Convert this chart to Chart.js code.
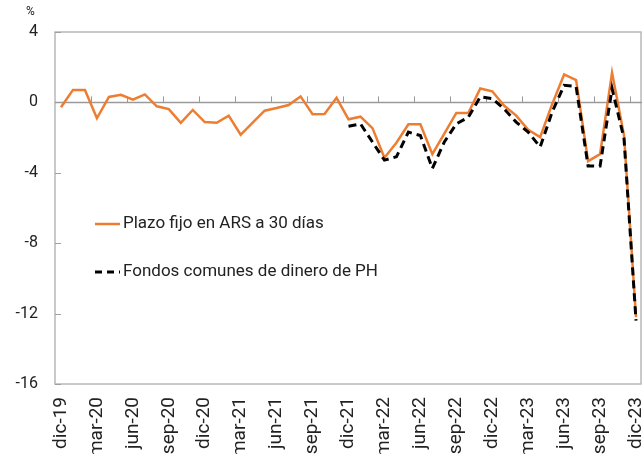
<!DOCTYPE html>
<html>
<head>
<meta charset="utf-8">
<script src="https://cdn.jsdelivr.net/npm/chart.js@4"></script>
<style>
    html, body { margin: 0; padding: 0; background: #fff; }
    #wrap { width: 642px; height: 454px; }
</style>
</head>
<body>
<div id="wrap"><canvas id="grafico"></canvas></div>
<script>
// Meses (dic-19 a dic-23)
const meses = [
    'dic-19', 'ene-20', 'feb-20', 'mar-20', 'abr-20', 'may-20', 'jun-20', 'jul-20', 'ago-20', 'sep-20', 'oct-20', 'nov-20',
    'dic-20', 'ene-21', 'feb-21', 'mar-21', 'abr-21', 'may-21', 'jun-21', 'jul-21', 'ago-21', 'sep-21', 'oct-21', 'nov-21',
    'dic-21', 'ene-22', 'feb-22', 'mar-22', 'abr-22', 'may-22', 'jun-22', 'jul-22', 'ago-22', 'sep-22', 'oct-22', 'nov-22',
    'dic-22', 'ene-23', 'feb-23', 'mar-23', 'abr-23', 'may-23', 'jun-23', 'jul-23', 'ago-23', 'sep-23', 'oct-23', 'nov-23',
    'dic-23'
];

// Plazo fijo en ARS a 30 días (%)
const plazoFijo = [
    -0.28, 0.71, 0.71, -0.9, 0.31, 0.43, 0.15, 0.45, -0.22, -0.38, -1.16, -0.43,
    -1.12, -1.16, -0.75, -1.84, -1.15, -0.47, -0.32, -0.15, 0.34, -0.67, -0.66, 0.26,
    -0.96, -0.81, -1.46, -3.15, -2.29, -1.24, -1.24, -2.94, -1.78, -0.6, -0.6, 0.79,
    0.63, -0.19, -0.75, -1.56, -1.97, -0.1, 1.59, 1.27, -3.34, -2.94, 1.69, -1.88,
    -12.2
];

// Fondos comunes de dinero de PH (%), desde dic-21
const fondosComunes = [
    null, null, null, null, null, null, null, null, null, null, null, null,
    null, null, null, null, null, null, null, null, null, null, null, null,
    -1.35, -1.22, -2.25, -3.28, -3.09, -1.69, -1.88, -3.75, -2.25, -1.22, -0.84, 0.31,
    0.22, -0.38, -1.12, -1.69, -2.53, -0.55, 0.97, 0.9, -3.62, -3.62, 0.79, -2.06,
    -12.4
];

const yTicks = [4, 0, -4, -8, -12, -16];

const NARANJA = 'rgb(237,125,49)';
const TEXTO = '#222';

// Marco, marcas de ejes y leyenda
const decoracion = {
    id: 'decoracion',
    beforeDatasetsDraw(chart) {
        const { ctx, chartArea: a, scales } = chart;
        const x = scales.x, y = scales.y;
        ctx.save();
        // marco del área
        ctx.strokeStyle = '#b8b8b8';
        ctx.lineWidth = 1.5;
        ctx.strokeRect(a.left, a.top, a.right - a.left - 1, a.bottom - a.top);
        // marcas en el eje y (hacia dentro)
        ctx.strokeStyle = '#a0a0a0';
        ctx.lineWidth = 1;
        yTicks.forEach(v => {
            const py = Math.round(y.getPixelForValue(v)) + 0.5;
            ctx.beginPath();
            ctx.moveTo(a.left, py);
            ctx.lineTo(a.left + 6, py);
            ctx.stroke();
        });
        // línea del cero
        const y0 = y.getPixelForValue(0);
        ctx.strokeStyle = '#9a9a9a';
        ctx.lineWidth = 1.5;
        ctx.beginPath();
        ctx.moveTo(a.left, y0);
        ctx.lineTo(a.right, y0);
        ctx.stroke();
        // marcas trimestrales sobre la línea del cero
        ctx.lineWidth = 1;
        for (let i = 3; i < meses.length; i += 3) {
            const px = Math.round((x.getPixelForValue(i - 1) + x.getPixelForValue(i)) / 2) + 0.5;
            ctx.beginPath();
            ctx.moveTo(px, y0);
            ctx.lineTo(px, y0 - 6);
            ctx.stroke();
        }
        ctx.restore();
    },
    afterDraw(chart) {
        const { ctx } = chart;
        ctx.save();
        // unidad
        ctx.fillStyle = TEXTO;
        ctx.font = '12px Roboto';
        ctx.textAlign = 'left';
        ctx.textBaseline = 'middle';
        ctx.fillText('%', 26, 12);
        // leyenda
        ctx.font = '17px Roboto';
        ctx.lineWidth = 2.5;
        ctx.strokeStyle = NARANJA;
        ctx.beginPath();
        ctx.moveTo(95, 224);
        ctx.lineTo(120, 224);
        ctx.stroke();
        ctx.fillText('Plazo fijo en ARS a 30 días', 123, 224);
        ctx.strokeStyle = '#000';
        ctx.lineWidth = 3;
        ctx.setLineDash([7, 5]);
        ctx.beginPath();
        ctx.moveTo(95, 272);
        ctx.lineTo(120, 272);
        ctx.stroke();
        ctx.setLineDash([]);
        ctx.fillText('Fondos comunes de dinero de PH', 123, 272);
        ctx.restore();
    }
};

new Chart(document.getElementById('grafico'), {
    type: 'line',
    data: {
        labels: meses,
        datasets: [{
            label: 'Fondos comunes de dinero de PH',
            data: fondosComunes,
            borderColor: '#000',
            borderWidth: 3,
            borderDash: [8, 5],
            pointRadius: 0,
            tension: 0,
            spanGaps: false,
            order: 0
        }, {
            label: 'Plazo fijo en ARS a 30 días',
            data: plazoFijo,
            borderColor: NARANJA,
            borderWidth: 2.5,
            pointRadius: 0,
            tension: 0,
            order: 1
        }]
    },
    options: {
        responsive: true,
        maintainAspectRatio: false,
        animation: false,
        layout: { padding: { top: 32, right: 0, left: 0, bottom: 0 } },
        plugins: {
            legend: { display: false },
            tooltip: { enabled: false }
        },
        scales: {
            x: {
                type: 'category',
                offset: true,
                grid: { display: false, drawTicks: false },
                border: { display: false },
                afterFit: (s) => { s.height = 70; s.paddingLeft = 0; s.paddingRight = 0; },
                ticks: {
                    autoSkip: false,
                    minRotation: 90,
                    maxRotation: 90,
                    padding: 13,
                    color: TEXTO,
                    font: { family: 'Roboto', size: 19 },
                    callback: (v, i) => (i % 3 === 0 ? meses[i] : '')
                }
            },
            y: {
                min: -16,
                max: 4,
                afterBuildTicks: (s) => { s.ticks = yTicks.map(v => ({ value: v })); },
                grid: { display: false, drawTicks: false },
                border: { display: false },
                afterFit: (s) => { s.width = 55; },
                ticks: {
                    padding: 17,
                    color: TEXTO,
                    font: { family: 'Roboto', size: 16 }
                }
            }
        }
    },
    plugins: [decoracion]
});
</script>
</body>
</html>
